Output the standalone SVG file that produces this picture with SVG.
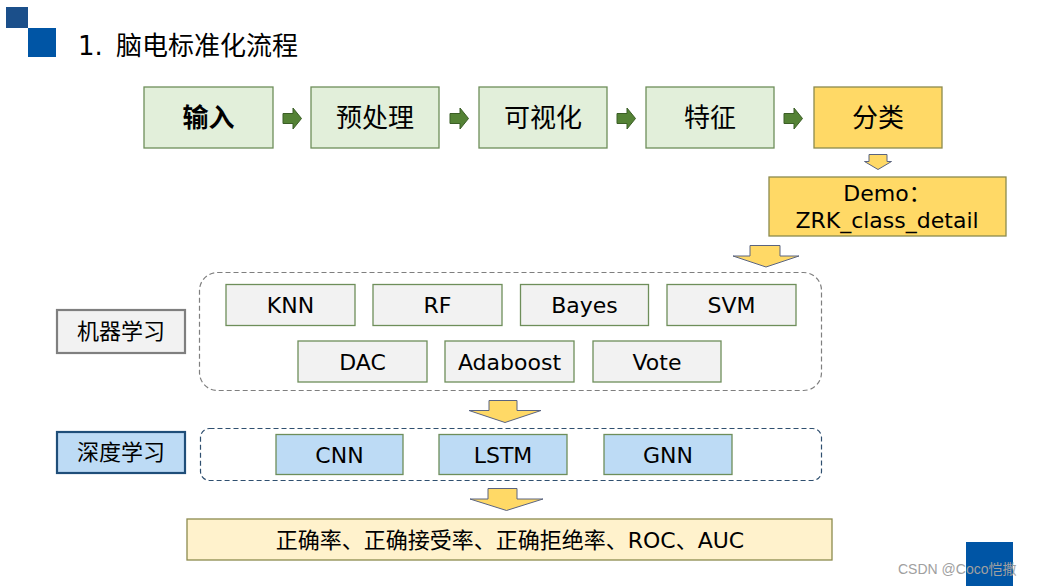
<svg xmlns="http://www.w3.org/2000/svg" width="1041" height="586" viewBox="0 0 1041 586">
<defs>
<style>
text{font-family:"DejaVu Sans","Noto Sans CJK SC",sans-serif;fill:#000;text-anchor:middle}
.step{fill:#E2EFDA;stroke:#6E8E5A;stroke-width:1.3}
.yel{fill:#FFD966;stroke:#8C8A4E;stroke-width:1.3}
.ml{fill:#F2F2F2;stroke:#6E8E5A;stroke-width:1.3}
.dl{fill:#BDDBF5;stroke:#6E8E5A;stroke-width:1.3}
.grp{fill:none;stroke:#7F7F7F;stroke-width:1.2;stroke-dasharray:5 3}
.grp2{fill:none;stroke:#2F4F6F;stroke-width:1.2;stroke-dasharray:5 3}
.garr{fill:#548235;stroke:#3B5E26;stroke-width:1}
.yarr{fill:#FFD966;stroke:#5A6480;stroke-width:1}
.t24{font-size:26px}
.t20{font-size:22px}
.t21{font-size:22px}
</style>
</defs>
<rect width="1041" height="586" fill="#FFFFFF"/>
<g id="deco">
<rect x="6" y="7" width="22" height="21" fill="#1B4F8A"/>
<rect x="28" y="28" width="28" height="29" fill="#0055A5"/>
<rect x="966" y="542" width="47" height="44" fill="#0055A5"/>
</g>
<g id="title">
<text x="78" y="55" style="font-size:26px;text-anchor:start">1.</text>
<text x="116" y="55" style="font-size:26px;text-anchor:start">脑电标准化流程</text>
</g>
<g id="n-input"><rect class="step" x="144" y="87" width="129" height="61"/><text class="t24" x="208.5" y="127" font-weight="bold">输入</text></g>
<g id="n-pre"><rect class="step" x="311" y="87" width="128" height="61"/><text class="t24" x="375" y="127">预处理</text></g>
<g id="n-vis"><rect class="step" x="479" y="87" width="128" height="61"/><text class="t24" x="543" y="127">可视化</text></g>
<g id="n-feat"><rect class="step" x="646" y="87" width="128" height="61"/><text class="t24" x="710" y="127">特征</text></g>
<g id="n-cls"><rect class="yel" x="814" y="87" width="128" height="61"/><text class="t24" x="878" y="127">分类</text></g>
<g id="n-demo"><rect class="yel" x="769" y="177" width="237" height="59"/><text class="t20" x="887" y="201">Demo：</text><text class="t20" x="887" y="228">ZRK_class_detail</text></g>
<g id="n-mlgroup"><rect class="grp" x="199.5" y="272.5" width="622" height="118" rx="18"/></g>
<g id="n-ml"><rect x="57" y="310" width="128" height="43" fill="#F2F2F2" stroke="#7F7F7F" stroke-width="2.2"/><text class="t20" x="121" y="339">机器学习</text></g>
<g id="n-knn"><rect class="ml" x="226" y="284.5" width="129" height="41"/><text class="t20" x="290.5" y="313">KNN</text></g>
<g id="n-rf"><rect class="ml" x="373" y="284.5" width="129" height="41"/><text class="t20" x="437.5" y="313">RF</text></g>
<g id="n-bayes"><rect class="ml" x="520.5" y="284.5" width="128" height="41"/><text class="t20" x="584.5" y="313">Bayes</text></g>
<g id="n-svm"><rect class="ml" x="667" y="284.5" width="129" height="41"/><text class="t20" x="731.5" y="313">SVM</text></g>
<g id="n-dac"><rect class="ml" x="298" y="341" width="129" height="41"/><text class="t20" x="362.5" y="370">DAC</text></g>
<g id="n-ada"><rect class="ml" x="445" y="341" width="129" height="41"/><text class="t20" x="509.5" y="370">Adaboost</text></g>
<g id="n-vote"><rect class="ml" x="593" y="341" width="128" height="41"/><text class="t20" x="657" y="370">Vote</text></g>
<g id="n-dlgroup"><rect class="grp2" x="200.5" y="428.5" width="621" height="52" rx="9"/></g>
<g id="n-dl"><rect x="57" y="432" width="128" height="41" fill="#BDDBF5" stroke="#1F4E79" stroke-width="2.2"/><text class="t20" x="121" y="460">深度学习</text></g>
<g id="n-cnn"><rect class="dl" x="276" y="434.5" width="127" height="40"/><text class="t20" x="339.5" y="463">CNN</text></g>
<g id="n-lstm"><rect class="dl" x="439" y="434.5" width="128" height="40"/><text class="t20" x="503" y="463">LSTM</text></g>
<g id="n-gnn"><rect class="dl" x="604" y="434.5" width="128" height="40"/><text class="t20" x="668" y="463">GNN</text></g>
<g id="n-result"><rect x="187" y="519" width="645" height="41" fill="#FFF2CC" stroke="#8C8A4E" stroke-width="1.3"/><text class="t21" x="510" y="548">正确率、正确接受率、正确拒绝率、ROC、AUC</text></g>
<g id="connectors">
<path class="garr" d="M283 113.5h10v-5.5l8.5 10.5l-8.5 10.5v-5.5h-10z"/>
<path class="garr" d="M450 113.5h10v-5.5l8.5 10.5l-8.5 10.5v-5.5h-10z"/>
<path class="garr" d="M617 113.5h10v-5.5l8.5 10.5l-8.5 10.5v-5.5h-10z"/>
<path class="garr" d="M784 113.5h10v-5.5l8.5 10.5l-8.5 10.5v-5.5h-10z"/>
<path class="yarr" d="M869 154.5h18v7h4.5l-13.5 8l-13.5-8h4.5z"/>
<path class="yarr" d="M750 245.5h30v10.5h19l-33 11l-33-11h17z"/>
<path class="yarr" d="M489 400.5h28v10h24l-36 12l-36-12h20z"/>
<path class="yarr" d="M488 488.5h29v10.5h26l-36.5 11.5l-36.5-11.5h18z"/>
</g>
<text x="898" y="574" style="font-size:14px;text-anchor:start;fill:#A0A0A0;font-family:'Liberation Sans','Noto Sans CJK SC',sans-serif">CSDN @Coco恺撒</text>
</svg>
